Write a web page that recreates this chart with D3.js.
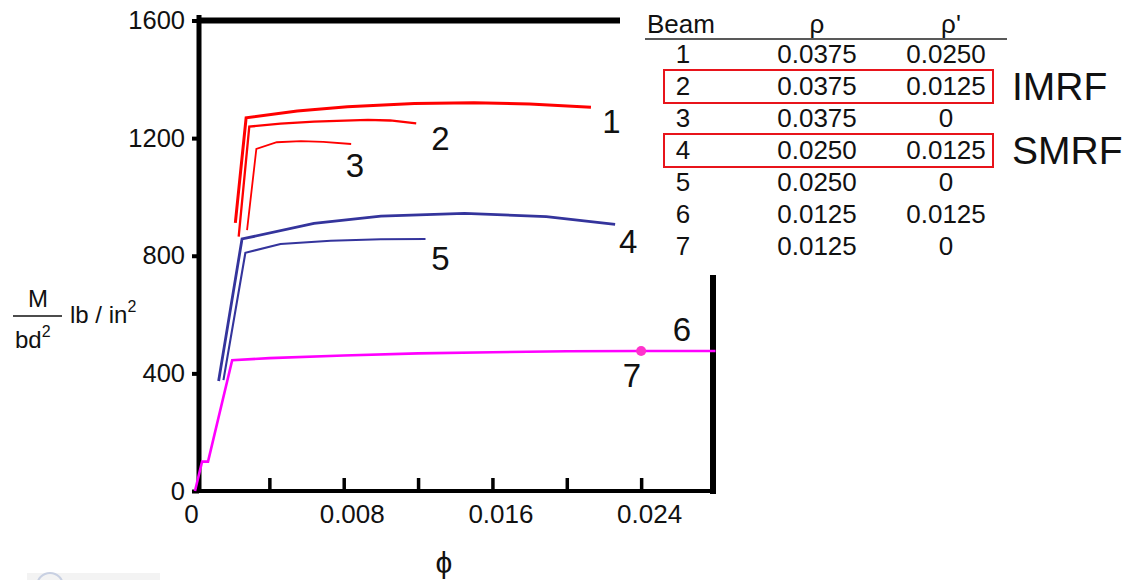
<!DOCTYPE html>
<html>
<head>
<meta charset="utf-8">
<script src="https://cdn.jsdelivr.net/npm/d3@7"></script>
<style>
  body { margin: 0; background: #fff; }
  svg { display: block; }
  text { font-family: "Liberation Sans", Arial, sans-serif; fill: #111; }
</style>
</head>
<body>
<svg width="1124" height="580"></svg>
<script>
// values (phi, M/bd^2)
const beams = ["1", "2", "3", "4", "5", "6", "7"];
const rho = ["0.0375", "0.0375", "0.0375", "0.0250", "0.0250", "0.0125", "0.0125"];
const rhoPrime = ["0.0250", "0.0125", "0", "0.0125", "0", "0.0125", "0"];
const framed = ["2", "4"];
const frameNames = ["IMRF", "SMRF"];

const curve1 = [[0.00217, 912], [0.00275, 1269], [0.0055, 1292], [0.0082, 1307], [0.0118, 1318], [0.015, 1320], [0.018, 1316], [0.0213, 1305]];
const curve2 = [[0.00235, 865], [0.00292, 1239], [0.0046, 1249], [0.0064, 1256], [0.0093, 1262], [0.0105, 1260], [0.0119, 1250]];
const curve3 = [[0.0028, 887], [0.0033, 1163], [0.0044, 1186], [0.0057, 1190], [0.0069, 1187], [0.0084, 1180]];
const curve4 = [[0.00127, 374], [0.00253, 857], [0.0064, 910], [0.01, 935], [0.0145, 944], [0.0189, 933], [0.0226, 907]];
const curve5 = [[0.00153, 377], [0.00271, 810], [0.0046, 840], [0.0073, 851], [0.01, 856], [0.0124, 857]];
const curve67 = [[0, 0], [0.00038, 100], [0.0007, 100], [0.002, 445], [0.004, 452], [0.008, 461], [0.012, 468], [0.016, 472], [0.02, 475], [0.024, 476], [0.028, 476]];
const dot7 = [0.024, 476];

const curveLabels = ["1", "2", "3", "4", "5", "6", "7"];
const labelAt = [[0.0224, 1256], [0.0132, 1200], [0.0086, 1108], [0.0233, 848], [0.0132, 792], [0.0262, 550], [0.0235, 394]];

const yTicks = [0, 400, 800, 1200, 1600];
const xTicks = [0.004, 0.008, 0.012, 0.016, 0.02, 0.024];
const xLabels = [0, 0.008, 0.016, 0.024];

const svg = d3.select("svg");

const x = d3.scaleLinear().domain([0, 0.028]).range([195, 715.5]);
const y = d3.scaleLinear().domain([0, 1600]).range([491, 20.5]);

const line = d3.line().x(d => x(d[0])).y(d => y(d[1]));

// frame pieces
svg.append("line").attr("x1", 199).attr("x2", 620).attr("y1", y(1600)).attr("y2", y(1600))
  .attr("stroke", "#000").attr("stroke-width", 6);
svg.append("line").attr("x1", 713).attr("x2", 713).attr("y1", 275).attr("y2", y(0) + 3)
  .attr("stroke", "#000").attr("stroke-width", 6);
svg.append("line").attr("x1", 196).attr("x2", 716).attr("y1", y(0)).attr("y2", y(0))
  .attr("stroke", "#000").attr("stroke-width", 4);
svg.append("line").attr("x1", 199).attr("x2", 199).attr("y1", 15).attr("y2", y(0) + 2)
  .attr("stroke", "#000").attr("stroke-width", 5);

// y axis
const yAxis = svg.append("g").attr("transform", "translate(199,0)")
  .call(d3.axisLeft(y).tickValues(yTicks).tickSize(7).tickPadding(7).tickFormat(d3.format("d")));
yAxis.select(".domain").remove();
yAxis.selectAll(".tick line").attr("stroke", "#000").attr("stroke-width", 4);
yAxis.selectAll(".tick text").attr("font-size", 25.5).attr("font-family", "Liberation Sans, Arial, sans-serif").attr("fill", "#111");

// x axis: inward ticks, then labels
const xAxis = svg.append("g").attr("transform", `translate(0,${y(0)})`)
  .call(d3.axisBottom(x).tickValues(xTicks).tickSizeInner(-13).tickSizeOuter(0).tickFormat(""));
xAxis.select(".domain").remove();
xAxis.selectAll(".tick line").attr("stroke", "#000").attr("stroke-width", 3.5);

const xLab = svg.append("g").attr("transform", `translate(0,${y(0)})`)
  .call(d3.axisBottom(x).tickValues(xLabels).tickSize(0).tickPadding(14).tickFormat(d => d === 0 ? "0" : d3.format(".3f")(d)));
xLab.select(".domain").remove();
xLab.selectAll(".tick text").attr("font-size", 26).attr("font-family", "Liberation Sans, Arial, sans-serif").attr("fill", "#111")
  .attr("dx", d => d === 0 ? -4 : 8);

// curves
const series = [
  { d: curve1, c: "#ff0000", w: 3 },
  { d: curve2, c: "#ff0000", w: 2.3 },
  { d: curve3, c: "#ff0000", w: 1.8 },
  { d: curve4, c: "#34349c", w: 2.8 },
  { d: curve5, c: "#34349c", w: 2.1 },
  { d: curve67, c: "#ff00ff", w: 2.6 }
];
svg.append("g").selectAll("path").data(series).join("path")
  .attr("d", s => line(s.d)).attr("fill", "none")
  .attr("stroke", s => s.c).attr("stroke-width", s => s.w)
  .attr("stroke-linejoin", "miter");

svg.append("circle").attr("cx", x(dot7[0])).attr("cy", y(dot7[1])).attr("r", 5).attr("fill", "#ff33cc");

svg.append("g").selectAll("text").data(curveLabels).join("text")
  .attr("x", (d, i) => x(labelAt[i][0])).attr("y", (d, i) => y(labelAt[i][1]))
  .attr("text-anchor", "middle").attr("dominant-baseline", "central")
  .attr("font-size", 33).text(d => d);

// axis titles
const yl = svg.append("g");
yl.append("text").attr("x", 38).attr("y", 307).attr("text-anchor", "middle").attr("font-size", 24).text("M");
yl.append("line").attr("x1", 13).attr("x2", 62).attr("y1", 316).attr("y2", 316).attr("stroke", "#111").attr("stroke-width", 1.5);
const bd = yl.append("text").attr("x", 15).attr("y", 348).attr("font-size", 24);
bd.append("tspan").text("bd");
bd.append("tspan").attr("font-size", 16).attr("dy", -11).text("2");
const lb = yl.append("text").attr("x", 70).attr("y", 323).attr("font-size", 24);
lb.append("tspan").text("lb / in");
lb.append("tspan").attr("font-size", 16).attr("dy", -11).text("2");

svg.append("text").attr("x", 444).attr("y", 573).attr("text-anchor", "middle")
  .attr("font-size", 30).attr("font-family", "DejaVu Sans, sans-serif").text("\u03D5");

// table
const rowY = d3.scalePoint().domain(beams).range([63, 255]);
const cols = [683, 817, 946];
const table = svg.append("g").attr("font-size", 26);
table.append("text").attr("x", 647).attr("y", 33).attr("font-size", 26).text("Beam");
table.append("text").attr("x", cols[1]).attr("y", 33).attr("text-anchor", "middle").attr("font-size", 26).text("\u03C1");
table.append("text").attr("x", cols[2] + 5).attr("y", 33).attr("text-anchor", "middle").attr("font-size", 26).text("\u03C1'");
table.append("line").attr("x1", 645).attr("x2", 1007).attr("y1", 39).attr("y2", 39).attr("stroke", "#222").attr("stroke-width", 1.5);

const rows = table.selectAll("g.row").data(beams).join("g").attr("class", "row")
  .attr("transform", d => `translate(0,${rowY(d)})`);
rows.append("text").attr("x", cols[0]).attr("text-anchor", "middle").attr("font-size", 26).text(d => d);
rows.append("text").attr("x", cols[1]).attr("text-anchor", "middle").attr("font-size", 26).text((d, i) => rho[i]);
rows.append("text").attr("x", cols[2]).attr("text-anchor", "middle").attr("font-size", 26).text((d, i) => rhoPrime[i]);

const boxes = svg.append("g").selectAll("g").data(framed).join("g");
boxes.append("rect").attr("x", 664).attr("width", 329)
  .attr("y", d => rowY(d) - 25).attr("height", 33)
  .attr("fill", "none").attr("stroke", "#e8141b").attr("stroke-width", 2);
boxes.append("text").attr("x", 1012).attr("y", d => rowY(d) + 5)
  .attr("font-family", "Lato, 'Open Sans', sans-serif").attr("font-size", 39)
  .text((d, i) => frameNames[i]);

// faint logo strip at the bottom-left
svg.append("rect").attr("x", 27).attr("y", 573).attr("width", 133).attr("height", 7).attr("fill", "#f3f3f3");
svg.append("circle").attr("cx", 50).attr("cy", 586).attr("r", 13).attr("fill", "none").attr("stroke", "#c8d0e2").attr("stroke-width", 2);
</script>
</body>
</html>
